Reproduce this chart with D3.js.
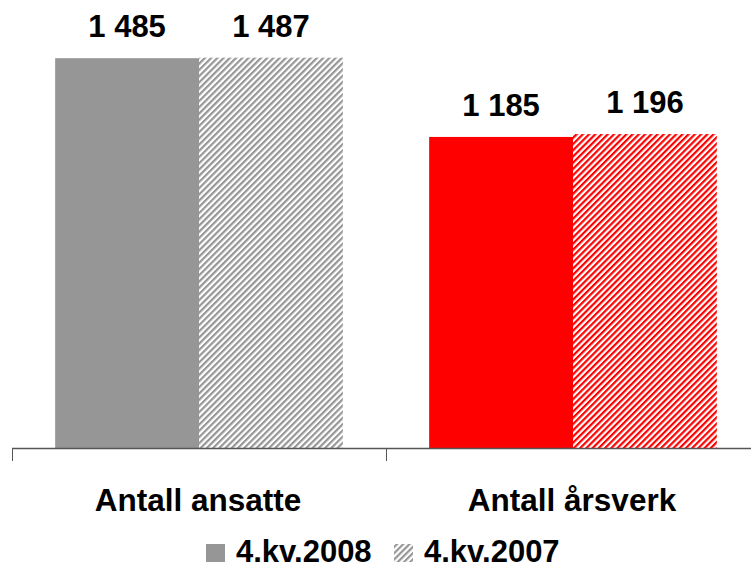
<!DOCTYPE html>
<html>
<head>
<meta charset="utf-8">
<script src="https://cdn.jsdelivr.net/npm/d3@7"></script>
<style>
  body { margin: 0; background: #fff; }
  text { font-family: "Liberation Sans", Arial, sans-serif; font-weight: bold; fill: #000; }
</style>
</head>
<body>
<svg id="chart"></svg>
<script>
const categories = ["Antall ansatte", "Antall årsverk"];
const seriesNames = ["4.kv.2008", "4.kv.2007"];
const values2008 = [1485, 1185];
const values2007 = [1487, 1196];
const groupColors = ["#969696", "#ff0000"];

const width = 751, height = 568;
const svg = d3.select("#chart").attr("width", width).attr("height", height);

const fmt = v => d3.format(",")(v).replace(",", " ");

// hatch patterns, one per colour
const defs = svg.append("defs");
groupColors.forEach((c, i) => {
    const p = defs.append("pattern")
        .attr("id", "hatch" + i)
        .attr("patternUnits", "userSpaceOnUse")
        .attr("width", 4.4).attr("height", 4.4)
        .attr("patternTransform", "rotate(45)");
    p.append("rect").attr("width", 4.4).attr("height", 4.4).attr("fill", "#fff");
    p.append("rect").attr("x", 0).attr("width", 2.2).attr("height", 4.4).attr("fill", c);
});

const x = d3.scaleBand().domain(categories).range([12, 760]);
const inner = d3.scaleBand().domain(seriesNames).range([0, x.bandwidth()]).paddingOuter(0.3).paddingInner(0);
const y = d3.scaleLinear().domain([0, 1600]).range([448, 28]);

const data = [];
categories.forEach((c, i) => {
    data.push({ cat: c, s: seriesNames[0], v: values2008[i], fill: groupColors[i] });
    data.push({ cat: c, s: seriesNames[1], v: values2007[i], fill: "url(#hatch" + i + ")" });
});

svg.selectAll(".bar")
    .data(data)
    .enter().append("rect")
    .attr("class", "bar")
    .attr("x", d => x(d.cat) + inner(d.s))
    .attr("width", inner.bandwidth())
    .attr("y", d => y(d.v))
    .attr("height", d => y(0) - y(d.v))
    .attr("fill", d => d.fill);

svg.selectAll(".val")
    .data(data)
    .enter().append("text")
    .attr("class", "val")
    .attr("x", d => x(d.cat) + inner(d.s) + inner.bandwidth() / 2)
    .attr("y", d => y(d.v) - 21)
    .attr("text-anchor", "middle")
    .style("font-size", "31px")
    .text(d => fmt(d.v));

// axis
const axis = svg.append("g");
axis.append("line")
    .attr("x1", 12).attr("x2", width)
    .attr("y1", y(0) + 0.5).attr("y2", y(0) + 0.5)
    .attr("stroke", "#555").attr("stroke-width", 1.5);
[12, 386].forEach(t => {
    axis.append("line")
        .attr("x1", t + 0.5).attr("x2", t + 0.5)
        .attr("y1", y(0)).attr("y2", y(0) + 13)
        .attr("stroke", "#555").attr("stroke-width", 1);
});

svg.selectAll(".cat")
    .data(categories)
    .enter().append("text")
    .attr("class", "cat")
    .attr("x", d => x(d) + x.bandwidth() / 2 - 1)
    .attr("y", 511)
    .attr("text-anchor", "middle")
    .style("font-size", "31.5px")
    .text(d => d);

// legend
const legend = svg.append("g");
const legendItems = [
    { name: seriesNames[0], fill: groupColors[0], x: 206 },
    { name: seriesNames[1], fill: "url(#hatch0)", x: 394 }
];
legendItems.forEach(it => {
    legend.append("rect")
        .attr("x", it.x).attr("y", 544)
        .attr("width", 19).attr("height", 18)
        .attr("fill", it.fill);
    legend.append("text")
        .attr("x", it.x + 30).attr("y", 562)
        .style("font-size", "31px")
        .text(it.name);
});
</script>
</body>
</html>
